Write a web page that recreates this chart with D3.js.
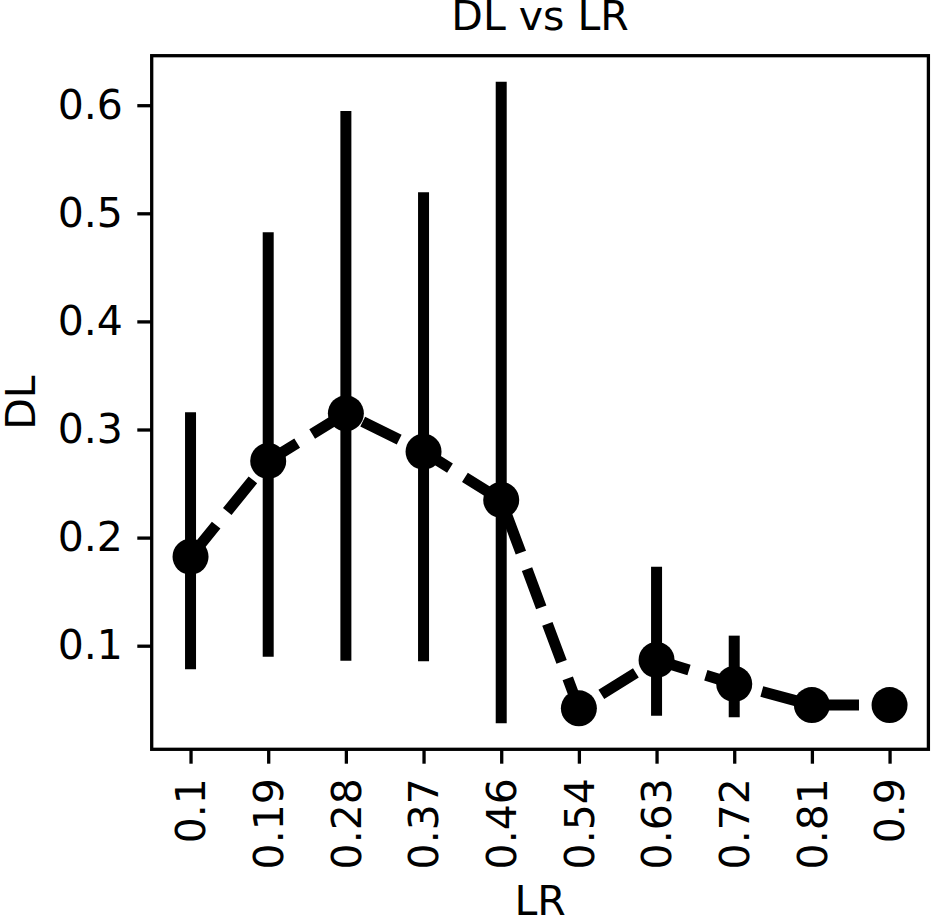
<!DOCTYPE html>
<html>
<head>
<meta charset="utf-8">
<script src="https://cdn.jsdelivr.net/npm/d3@7"></script>
<style>
  html, body { margin: 0; padding: 0; background: #fff; }
  svg { display: block; }
  text { font-family: "DejaVu Sans", sans-serif; fill: #000; }
</style>
</head>
<body>
<svg id="chart" width="931" height="920"></svg>
<script>
// ---- data ----
const categories = ["0.1", "0.19", "0.28", "0.37", "0.46", "0.54", "0.63", "0.72", "0.81", "0.9"];
const meanDL = [0.1823, 0.2709, 0.3150, 0.2795, 0.2348, 0.0421, 0.0868, 0.0646, 0.0451, 0.0451];
const lowDL  = [0.0782, 0.0898, 0.0861, 0.0856, 0.0282, 0.0405, 0.0352, 0.0338, 0.0440, 0.0440];
const highDL = [0.3159, 0.4824, 0.5946, 0.5194, 0.6217, 0.0440, 0.1731, 0.1093, 0.0462, 0.0462];
const yTicks = [0.1, 0.2, 0.3, 0.4, 0.5, 0.6];
const titleText = "DL vs LR";
const xLabel = "LR";
const yLabel = "DL";

// ---- layout ----
const W = 931, H = 920;
const L = 151.7, R = 928.4, T = 55.7, B = 749.3;
const FS = 41;
const tickLen = 14.4, tickPad = 14.4, axLW = 3.3;
const lw = 11, markerR = 18;

const svg = d3.select("#chart");

const x = d3.scalePoint().domain(categories).range([L, R]).padding(0.5);
const y = d3.scaleLinear().domain([0.00416, 0.6458]).range([B, T]);

const data = categories.map((c, i) => ({c, m: meanDL[i], lo: lowDL[i], hi: highDL[i]}));

// dashed connecting line
const line = d3.line().x(d => x(d.c)).y(d => y(d.m));
svg.append("path")
  .datum(data)
  .attr("d", line)
  .attr("fill", "none")
  .attr("stroke", "#000")
  .attr("stroke-width", lw)
  .attr("stroke-dasharray", `${3.7 * lw},${1.6 * lw}`)
  .attr("stroke-linecap", "butt")
  .attr("stroke-linejoin", "round");

// error bars
svg.append("g").selectAll("line")
  .data(data)
  .join("line")
  .attr("x1", d => x(d.c)).attr("x2", d => x(d.c))
  .attr("y1", d => y(d.lo)).attr("y2", d => y(d.hi))
  .attr("stroke", "#000")
  .attr("stroke-width", lw)
  .attr("stroke-linecap", "butt");

// markers
svg.append("g").selectAll("circle")
  .data(data)
  .join("circle")
  .attr("cx", d => x(d.c))
  .attr("cy", d => y(d.m))
  .attr("r", markerR)
  .attr("fill", "#000");

// axes
const yAxis = d3.axisLeft(y).tickValues(yTicks).tickFormat(d3.format(".1f"))
  .tickSize(tickLen).tickPadding(tickPad);
const gy = svg.append("g").attr("transform", `translate(${L},0)`).call(yAxis);
gy.select(".domain").remove();
gy.selectAll(".tick line").attr("stroke", "#000").attr("stroke-width", axLW);
gy.selectAll(".tick text").attr("font-size", FS).attr("font-family", "DejaVu Sans").attr("fill", "#000");

const xAxis = d3.axisBottom(x).tickSize(tickLen).tickPadding(tickPad);
const gx = svg.append("g").attr("transform", `translate(0,${B})`).call(xAxis);
gx.select(".domain").remove();
gx.selectAll(".tick line").attr("stroke", "#000").attr("stroke-width", axLW);
gx.selectAll(".tick text")
  .attr("font-size", FS).attr("font-family", "DejaVu Sans").attr("fill", "#000")
  .attr("transform", "rotate(-90)")
  .attr("text-anchor", "end")
  .attr("x", -(tickLen + tickPad))
  .attr("y", 0)
  .attr("dy", "0.35em");

// frame
svg.append("rect")
  .attr("x", L).attr("y", T)
  .attr("width", R - L).attr("height", B - T)
  .attr("fill", "none")
  .attr("stroke", "#000")
  .attr("stroke-width", axLW);

// title & labels
svg.append("text")
  .attr("x", (L + R) / 2).attr("y", 30)
  .attr("text-anchor", "middle")
  .attr("font-size", FS)
  .text(titleText);

svg.append("text")
  .attr("x", (L + R) / 2).attr("y", 915)
  .attr("text-anchor", "middle")
  .attr("font-size", FS)
  .text(xLabel);

svg.append("text")
  .attr("transform", `translate(35,${(T + B) / 2}) rotate(-90)`)
  .attr("text-anchor", "middle")
  .attr("font-size", FS)
  .text(yLabel);
</script>
</body>
</html>
